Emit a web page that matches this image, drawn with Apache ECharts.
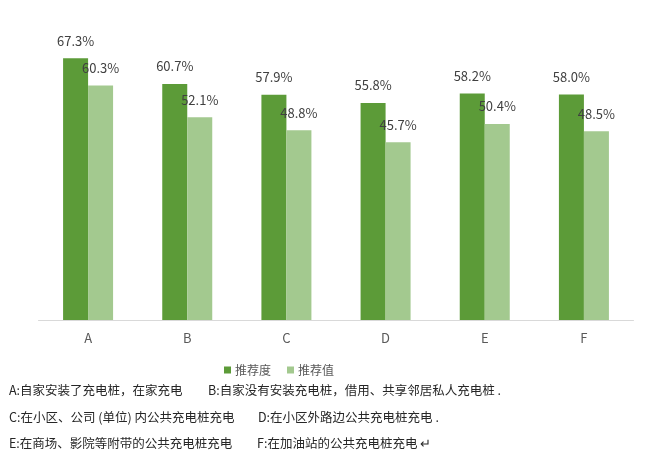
<!DOCTYPE html>
<html>
<head>
<meta charset="utf-8">
<script src="https://cdn.jsdelivr.net/npm/echarts@6/dist/echarts.min.js"></script>
<style>
html,body{margin:0;padding:0;background:#fff;}
#c{width:660px;height:467px;}
</style>
</head>
<body>
<div id="c"></div>
<script>
const categories = ['A', 'B', 'C', 'D', 'E', 'F'];
const seriesNames = ['推荐度', '推荐值'];
const recommendDegree = [67.3, 60.7, 57.9, 55.8, 58.2, 58.0];
const recommendValue = [60.3, 52.1, 48.8, 45.7, 50.4, 48.5];
const notes = [
  ['A:自家安装了充电桩，在家充电', 'B:自家没有安装充电桩，借用、共享邻居私人充电桩 .'],
  ['C:在小区、公司 (单位) 内公共充电桩充电', 'D:在小区外路边公共充电桩充电 .'],
  ['E:在商场、影院等附带的公共充电桩充电', 'F:在加油站的公共充电桩充电 ↵']
];

const font = '"Noto Sans CJK SC", "Noto Sans", sans-serif';
const chart = echarts.init(document.getElementById('c'));

const noteX = [[9, 208], [9, 258], [9, 257]];
const noteY = [393, 420, 446];
const graphics = [];
notes.forEach((line, i) => {
  line.forEach((t, j) => {
    graphics.push({
      type: 'text',
      left: noteX[i][j],
      top: noteY[i] - 9,
      style: { text: t, fontSize: 12.5, fill: '#262626', fontFamily: font }
    });
  });
});

const labelCfg = {
  show: true,
  position: 'top',
  distance: 11,
  fontSize: 13,
  color: '#404040',
  fontFamily: font,
  formatter: p => p.value.toFixed(1) + '%'
};

chart.setOption({
  backgroundColor: '#fff',
  animation: false,
  grid: { left: 38.5, right: 26.5, top: 8.8, bottom: 147 },
  legend: {
    data: seriesNames,
    left: 219,
    top: 359,
    itemWidth: 7,
    itemHeight: 7,
    itemGap: 16,
    icon: 'rect',
    textStyle: { fontSize: 12, color: '#595959', fontFamily: font, padding: [0, 0, 0, -1] }
  },
  xAxis: {
    type: 'category',
    data: categories,
    axisLine: { lineStyle: { color: '#d9d9d9', width: 1 } },
    axisTick: { show: false },
    axisLabel: { fontSize: 13, color: '#595959', margin: 12, fontFamily: font }
  },
  yAxis: {
    type: 'value',
    min: 0,
    max: 80,
    show: false,
    splitLine: { show: false }
  },
  series: [
    {
      name: seriesNames[0],
      type: 'bar',
      data: recommendDegree,
      barWidth: 25,
      barGap: '0%',
      itemStyle: { color: '#5c9b38' },
      label: labelCfg
    },
    {
      name: seriesNames[1],
      type: 'bar',
      data: recommendValue,
      barWidth: 25,
      itemStyle: { color: '#a3c98f' },
      label: labelCfg
    }
  ],
  graphic: graphics
});
</script>
</body>
</html>
